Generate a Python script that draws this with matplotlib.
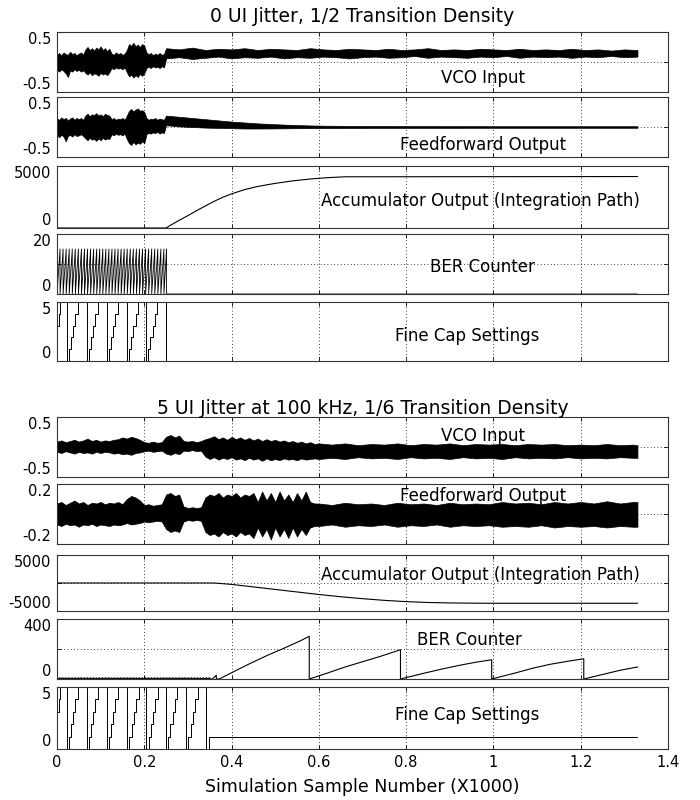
import numpy as np
import matplotlib.pyplot as plt

# x axis is simulation sample number in thousands
x_ticks = [0, 0.2, 0.4, 0.6, 0.8, 1.0, 1.2, 1.4]
x_tick_labels = ['0', '0.2', '0.4', '0.6', '0.8', '1', '1.2', '1.4']

# ---------- 0 UI jitter, 1/2 transition density ----------
# noisy traces are kept as upper / lower envelopes
t1_x = [0, 0.005, 0.01, 0.015, 0.02, 0.025, 0.03, 0.035, 0.04, 0.045,
        0.05, 0.055, 0.06, 0.065, 0.07, 0.075, 0.08, 0.085, 0.09, 0.095,
        0.1, 0.105, 0.11, 0.115, 0.12, 0.125, 0.13, 0.135, 0.14, 0.145,
        0.15, 0.155, 0.16, 0.165, 0.17, 0.175, 0.18, 0.185, 0.19, 0.195,
        0.2, 0.205, 0.21, 0.215, 0.22, 0.225, 0.23, 0.235, 0.24, 0.245,
        0.25,
        0.28, 0.31, 0.34, 0.37, 0.4, 0.43, 0.46, 0.49, 0.52, 0.55,
        0.58, 0.61, 0.64, 0.67, 0.7, 0.73, 0.76, 0.79, 0.82, 0.85,
        0.88, 0.91, 0.94, 0.97, 1.0, 1.03, 1.06, 1.09, 1.12, 1.15,
        1.18, 1.21, 1.24, 1.27, 1.3, 1.33]

vco1_hi = [0.12, 0.15, 0.11, 0.16, 0.13, 0.12, 0.17, 0.13, 0.15, 0.11,
           0.14, 0.16, 0.12, 0.21, 0.25, 0.2, 0.23, 0.19, 0.24, 0.21,
           0.26, 0.2, 0.23, 0.18, 0.22, 0.14, 0.12, 0.16, 0.13, 0.15,
           0.12, 0.14, 0.2, 0.3, 0.27, 0.32, 0.26, 0.29, 0.25, 0.3,
           0.27, 0.16, 0.13, 0.15, 0.11, 0.14, 0.12, 0.15, 0.12, 0.13,
           0.23,
           0.21, 0.24, 0.2, 0.22, 0.21, 0.23, 0.2, 0.22, 0.21, 0.2,
           0.23, 0.21, 0.2, 0.22, 0.21, 0.2, 0.22, 0.2, 0.21, 0.23,
           0.2, 0.21, 0.2, 0.22, 0.21, 0.2, 0.22, 0.2, 0.21, 0.2,
           0.22, 0.2, 0.21, 0.19, 0.21, 0.2]
vco1_lo = [-0.13, -0.16, -0.12, -0.15, -0.19, -0.25, -0.14, -0.16, -0.12, -0.15,
           -0.13, -0.16, -0.14, -0.18, -0.21, -0.17, -0.22, -0.19, -0.2, -0.23,
           -0.18, -0.21, -0.19, -0.22, -0.17, -0.1, -0.12, -0.09, -0.11, -0.1,
           -0.12, -0.09, -0.17, -0.24, -0.21, -0.26, -0.22, -0.25, -0.2, -0.23,
           -0.19, -0.1, -0.08, -0.1, -0.07, -0.09, -0.08, -0.1, -0.07, -0.09,
           0.06,
           0.08, 0.05, 0.07, 0.09, 0.06, 0.08, 0.07, 0.09, 0.06, 0.08,
           0.07, 0.09, 0.08, 0.06, 0.08, 0.09, 0.07, 0.08, 0.1, 0.07,
           0.09, 0.08, 0.07, 0.09, 0.08, 0.1, 0.07, 0.09, 0.08, 0.09,
           0.07, 0.09, 0.08, 0.1, 0.08, 0.09]

ff1_hi = [0.14, 0.12, 0.16, 0.13, 0.15, 0.11, 0.14, 0.16, 0.12, 0.15,
          0.13, 0.15, 0.12, 0.19, 0.22, 0.18, 0.21, 0.2, 0.23, 0.19,
          0.21, 0.18, 0.22, 0.2, 0.19, 0.13, 0.15, 0.12, 0.14, 0.13,
          0.15, 0.12, 0.19, 0.27, 0.3, 0.26, 0.29, 0.31, 0.27, 0.28,
          0.25, 0.15, 0.12, 0.14, 0.13, 0.15, 0.12, 0.14, 0.13, 0.12,
          0.19,
          0.17, 0.15, 0.13, 0.11, 0.09, 0.075, 0.06, 0.05, 0.04, 0.032,
          0.026, 0.022, 0.02, 0.018, 0.017, 0.016, 0.016, 0.015, 0.015, 0.015,
          0.014, 0.014, 0.014, 0.014, 0.013, 0.013, 0.013, 0.013, 0.013, 0.013,
          0.013, 0.013, 0.013, 0.013, 0.013, 0.013]
ff1_lo = [-0.14, -0.17, -0.13, -0.16, -0.24, -0.15, -0.13, -0.16, -0.12, -0.15,
          -0.14, -0.12, -0.15, -0.19, -0.22, -0.18, -0.21, -0.2, -0.23, -0.19,
          -0.22, -0.18, -0.21, -0.19, -0.2, -0.12, -0.14, -0.11, -0.13, -0.12,
          -0.14, -0.11, -0.2, -0.27, -0.3, -0.25, -0.29, -0.26, -0.28, -0.24,
          -0.27, -0.12, -0.1, -0.11, -0.09, -0.1, -0.08, -0.11, -0.09, -0.1,
          0.03,
          0.01, 0.0, -0.01, -0.015, -0.02, -0.025, -0.025, -0.024, -0.022, -0.02,
          -0.019, -0.018, -0.017, -0.016, -0.016, -0.015, -0.015, -0.015, -0.014, -0.014,
          -0.014, -0.014, -0.013, -0.013, -0.013, -0.013, -0.013, -0.013, -0.013, -0.013,
          -0.013, -0.013, -0.013, -0.013, -0.013, -0.013]

acc1_x = [0, 0.25, 0.26, 0.28, 0.3, 0.32, 0.34, 0.36, 0.38, 0.4, 0.43, 0.46, 0.5, 0.54, 0.58, 0.62, 0.66, 1.33]
acc1_y = [0, 0, 220, 620, 1000, 1400, 1780, 2150, 2480, 2750, 3100, 3350, 3600, 3800, 3950, 4060, 4130, 4150]

ber1_resets = [0.007, 0.014, 0.021, 0.028, 0.035, 0.042, 0.049, 0.056, 0.063, 0.070, 0.077, 0.084,
               0.091, 0.098, 0.105, 0.112, 0.119, 0.126, 0.133, 0.140, 0.147, 0.154, 0.161, 0.168,
               0.175, 0.182, 0.189, 0.196, 0.203, 0.210, 0.217, 0.224, 0.231, 0.238, 0.245, 0.251]
ber1_peak = 15

fine1_head_x = [0, 0.004, 0.008]
fine1_head_y = [3, 4, 5]
fine1_resets = [0.022, 0.068, 0.114, 0.160, 0.204, 0.250]
fine1_tail_x = [1.33]
fine1_tail_y = [0]

# ---------- 5 UI jitter at 100 kHz, 1/6 transition density ----------
t2_x = [0, 0.01, 0.02, 0.03, 0.04, 0.05, 0.06, 0.07, 0.08, 0.09,
        0.1, 0.11, 0.12, 0.13, 0.14, 0.15, 0.16, 0.17, 0.18, 0.19,
        0.2, 0.21, 0.22, 0.23, 0.24, 0.25, 0.26, 0.27, 0.28, 0.29,
        0.3, 0.31, 0.32, 0.33, 0.34, 0.35, 0.36, 0.37, 0.38, 0.39,
        0.4, 0.41, 0.42, 0.43, 0.44, 0.45, 0.46, 0.47, 0.48, 0.49,
        0.5, 0.51, 0.52, 0.53, 0.54, 0.55, 0.56, 0.57, 0.58, 0.59,
        0.6,
        0.63, 0.66, 0.69, 0.72, 0.75, 0.78, 0.81, 0.84, 0.87, 0.9, 0.93, 0.96,
        0.99, 1.02, 1.05, 1.08, 1.11, 1.14, 1.17, 1.2, 1.23, 1.26, 1.29, 1.32,
        1.33]

vco2_hi = [0.09, 0.11, 0.08, 0.1, 0.12, 0.09, 0.11, 0.14, 0.1, 0.12,
           0.09, 0.11, 0.1, 0.12, 0.13, 0.16, 0.14, 0.17, 0.15, 0.12,
           0.08, 0.07, 0.09, 0.07, 0.08, 0.17, 0.2, 0.16, 0.19, 0.1,
           0.09, 0.1, 0.08, 0.1, 0.13, 0.15, 0.18, 0.13, 0.16, 0.12,
           0.17, 0.13, 0.16, 0.12, 0.15, 0.11, 0.14, 0.1, 0.13, 0.1,
           0.12, 0.09, 0.11, 0.08, 0.1, 0.07, 0.09, 0.06, 0.08, 0.05,
           0.06,
           0.04, 0.06, 0.03, 0.05, 0.04, 0.06, 0.03, 0.05, 0.04, 0.06, 0.03, 0.05,
           0.04, 0.05, 0.03, 0.05, 0.04, 0.05, 0.03, 0.04, 0.03, 0.05, 0.03, 0.04,
           0.03]
vco2_lo = [-0.08, -0.1, -0.07, -0.09, -0.11, -0.08, -0.1, -0.09, -0.11, -0.08,
           -0.1, -0.08, -0.09, -0.11, -0.1, -0.12, -0.11, -0.13, -0.1, -0.09,
           -0.07, -0.06, -0.08, -0.07, -0.06, -0.11, -0.13, -0.1, -0.12, -0.06,
           -0.07, -0.05, -0.07, -0.06, -0.16, -0.2, -0.17, -0.21, -0.18, -0.2,
           -0.17, -0.21, -0.19, -0.22, -0.18, -0.21, -0.19, -0.23, -0.19, -0.22,
           -0.2, -0.22, -0.19, -0.21, -0.2, -0.22, -0.19, -0.21, -0.2, -0.19,
           -0.2,
           -0.18, -0.2, -0.17, -0.19, -0.18, -0.2, -0.17, -0.19, -0.18, -0.2, -0.17, -0.19,
           -0.18, -0.2, -0.17, -0.19, -0.18, -0.19, -0.17, -0.19, -0.18, -0.19, -0.17, -0.18,
           -0.18]

ff2_hi = [0.07, 0.08, 0.06, 0.075, 0.09, 0.07, 0.08, 0.06, 0.075, 0.07,
          0.08, 0.065, 0.075, 0.07, 0.08, 0.065, 0.1, 0.12, 0.11, 0.09,
          0.06, 0.065, 0.055, 0.06, 0.065, 0.13, 0.14, 0.12, 0.13, 0.05,
          0.04, 0.045, 0.04, 0.045, 0.11, 0.13, 0.12, 0.14, 0.11, 0.13,
          0.12, 0.14, 0.11, 0.13, 0.12, 0.14, 0.08, 0.15, 0.09, 0.14,
          0.08, 0.15, 0.09, 0.13, 0.08, 0.14, 0.09, 0.15, 0.08, 0.07,
          0.07,
          0.06, 0.075, 0.065, 0.07, 0.06, 0.075, 0.065, 0.07, 0.06, 0.075, 0.065, 0.07,
          0.065, 0.08, 0.07, 0.075, 0.065, 0.08, 0.07, 0.08, 0.07, 0.085, 0.07, 0.08,
          0.08]
ff2_lo = [-0.07, -0.08, -0.065, -0.075, -0.07, -0.085, -0.07, -0.075, -0.065, -0.08,
          -0.07, -0.075, -0.08, -0.07, -0.075, -0.07, -0.06, -0.07, -0.065, -0.06,
          -0.05, -0.055, -0.05, -0.045, -0.05, -0.1, -0.12, -0.11, -0.12, -0.05,
          -0.04, -0.045, -0.04, -0.045, -0.12, -0.14, -0.13, -0.15, -0.12, -0.14,
          -0.13, -0.15, -0.12, -0.14, -0.13, -0.16, -0.09, -0.15, -0.1, -0.17,
          -0.09, -0.15, -0.1, -0.16, -0.09, -0.15, -0.1, -0.14, -0.09, -0.08,
          -0.08,
          -0.07, -0.085, -0.075, -0.08, -0.07, -0.085, -0.075, -0.08, -0.07, -0.085, -0.075, -0.08,
          -0.075, -0.085, -0.08, -0.085, -0.075, -0.09, -0.08, -0.085, -0.08, -0.09, -0.08, -0.085,
          -0.085]

acc2_x = [0, 0.36, 0.4, 0.45, 0.5, 0.55, 0.6, 0.65, 0.7, 0.75, 0.8, 0.85, 0.9, 0.95, 1.0, 1.33]
acc2_y = [0, 0, -250, -700, -1150, -1600, -2050, -2450, -2800, -3100, -3330, -3480, -3560, -3600, -3620, -3620]

ber2_teeth = [0.007, 0.014, 0.021, 0.028, 0.035, 0.042, 0.049, 0.056, 0.063, 0.070, 0.077, 0.084,
              0.091, 0.098, 0.105, 0.112, 0.119, 0.126, 0.133, 0.140, 0.147, 0.154, 0.161, 0.168,
              0.175, 0.182, 0.189, 0.196, 0.203, 0.210, 0.217, 0.224, 0.231, 0.238, 0.245, 0.252,
              0.259, 0.266, 0.273, 0.280, 0.287, 0.294, 0.301, 0.308, 0.315, 0.322, 0.329, 0.336,
              0.343, 0.350]
ber2_teeth_peak = 8
ber2_x = [0.350, 0.356, 0.365, 0.365, 0.372, 0.40, 0.44, 0.48, 0.52, 0.56, 0.578, 0.578, 0.62, 0.66,
          0.70, 0.74, 0.787, 0.787, 0.84, 0.88, 0.92, 0.96, 0.996, 0.996, 1.05, 1.09, 1.13, 1.17,
          1.207, 1.207, 1.25, 1.29, 1.33]
ber2_y = [0, 0, 25, 0, 0, 42, 100, 155, 205, 258, 285, 0, 40, 80, 115, 150, 195, 0, 38, 65, 90, 112,
          128, 0, 40, 72, 98, 118, 135, 0, 30, 58, 80]

fine2_head_x = [0, 0.004, 0.008]
fine2_head_y = [3, 4, 5]
fine2_resets = [0.022, 0.068, 0.114, 0.161, 0.205, 0.250, 0.296, 0.341]
fine2_tail_x = [0.349, 1.33]
fine2_tail_y = [1, 1]

# staircase inside each fine-cap cycle (time after reset, level)
fine_step_dx = [0.005, 0.010, 0.015, 0.020, 0.026]
fine_step_lv = [1, 2, 3, 4, 5]


def sawtooth(resets, peak):
    xs, ys = [0], [0]
    for r in resets:
        xs += [r, r]
        ys += [peak, 0]
    return xs, ys


def fine_cap(head_x, head_y, resets, tail_x, tail_y):
    xs, ys = list(head_x), list(head_y)
    for i, r in enumerate(resets):
        xs.append(r)
        ys.append(0)
        if i < len(resets) - 1:
            xs += [r + d for d in fine_step_dx]
            ys += fine_step_lv
    return xs + tail_x, ys + tail_y


plt.rcParams['font.family'] = 'DejaVu Sans'
fig = plt.figure(figsize=(7, 8), dpi=100)


def panel(top, bot):
    return fig.add_axes([57 / 700, 1 - bot / 800, 611 / 700, (bot - top) / 800])


def style(ax, yticks, ylabels, xlabels=False):
    ax.set_xlim(0, 1.4)
    ax.set_ylim(yticks[0], yticks[-1])
    ax.set_xticks(x_ticks)
    ax.set_xticklabels(x_tick_labels if xlabels else [])
    ax.set_yticks(yticks)
    ax.set_yticklabels(ylabels)
    ax.grid(True, color='k', lw=0.6, ls=(0, (1, 3)))
    ax.tick_params(direction='in', length=3, width=0.6, top=True, right=True,
                   labelsize=10.5, pad=4)
    for s in ax.spines.values():
        s.set_linewidth(0.8)
        s.set_color('0.2')
    labs = ax.get_yticklabels()
    labs[0].set_va('bottom')
    labs[-1].set_va('top')


def note(ax, s, fx, fy):
    ax.text(fx, fy, s, transform=ax.transAxes, ha='center', va='center', fontsize=12)


def band(ax, x, lo, hi):
    ax.fill_between(x, lo, hi, color='k', lw=0.5, edgecolor='k')


line_kw = dict(color='k', lw=0.8)

# top group
fig.text(0.518, 1 - 16 / 800, '0 UI Jitter, 1/2 Transition Density', ha='center', va='center', fontsize=13.5)

ax = panel(32, 92)
band(ax, t1_x, vco1_lo, vco1_hi)
style(ax, [-0.5, 0, 0.5], ['-0.5', '', '0.5'])
note(ax, 'VCO Input', 0.697, 0.24)

ax = panel(97, 157)
band(ax, t1_x, ff1_lo, ff1_hi)
style(ax, [-0.5, 0, 0.5], ['-0.5', '', '0.5'])
note(ax, 'Feedforward Output', 0.698, 0.2)

ax = panel(166, 228)
ax.plot(acc1_x, acc1_y, **line_kw)
style(ax, [0, 5000], ['0', '5000'])
note(ax, 'Accumulator Output (Integration Path)', 0.693, 0.44)

ax = panel(234, 294)
bx, by = sawtooth(ber1_resets, ber1_peak)
ax.plot(bx + [1.33], by + [0], color='k', lw=0.6)
style(ax, [0, 10, 20], ['0', '', '20'])
note(ax, 'BER Counter', 0.697, 0.45)

ax = panel(302, 361)
fx, fy = fine_cap(fine1_head_x, fine1_head_y, fine1_resets, fine1_tail_x, fine1_tail_y)
ax.plot(fx, fy, drawstyle='steps-post', color='k', lw=0.7)
style(ax, [0, 5], ['0', '5'])
note(ax, 'Fine Cap Settings', 0.671, 0.42)

# bottom group
fig.text(0.518, 1 - 408 / 800, '5 UI Jitter at 100 kHz, 1/6 Transition Density', ha='center', va='center',
         fontsize=13.5)

ax = panel(417, 477)
band(ax, t2_x, vco2_lo, vco2_hi)
style(ax, [-0.5, 0, 0.5], ['-0.5', '', '0.5'])
note(ax, 'VCO Input', 0.697, 0.68)

ax = panel(484, 544)
band(ax, t2_x, ff2_lo, ff2_hi)
style(ax, [-0.2, 0, 0.2], ['-0.2', '', '0.2'])
note(ax, 'Feedforward Output', 0.698, 0.8)

ax = panel(555, 611)
ax.plot(acc2_x, acc2_y, **line_kw)
style(ax, [-5000, 0, 5000], ['-5000', '', '5000'])
note(ax, 'Accumulator Output (Integration Path)', 0.693, 0.65)

ax = panel(619, 679)
tx, ty = sawtooth(ber2_teeth, ber2_teeth_peak)
ax.plot(tx + ber2_x, ty + ber2_y, **line_kw)
style(ax, [0, 200, 400], ['0', '', '400'])
note(ax, 'BER Counter', 0.675, 0.65)

ax = panel(687, 749)
fx, fy = fine_cap(fine2_head_x, fine2_head_y, fine2_resets, fine2_tail_x, fine2_tail_y)
ax.plot(fx, fy, drawstyle='steps-post', color='k', lw=0.7)
style(ax, [0, 5], ['0', '5'], xlabels=True)
note(ax, 'Fine Cap Settings', 0.671, 0.55)
ax.set_xlabel('Simulation Sample Number (X1000)', fontsize=12.5, labelpad=6)

fig.savefig('out.png', dpi=100)
